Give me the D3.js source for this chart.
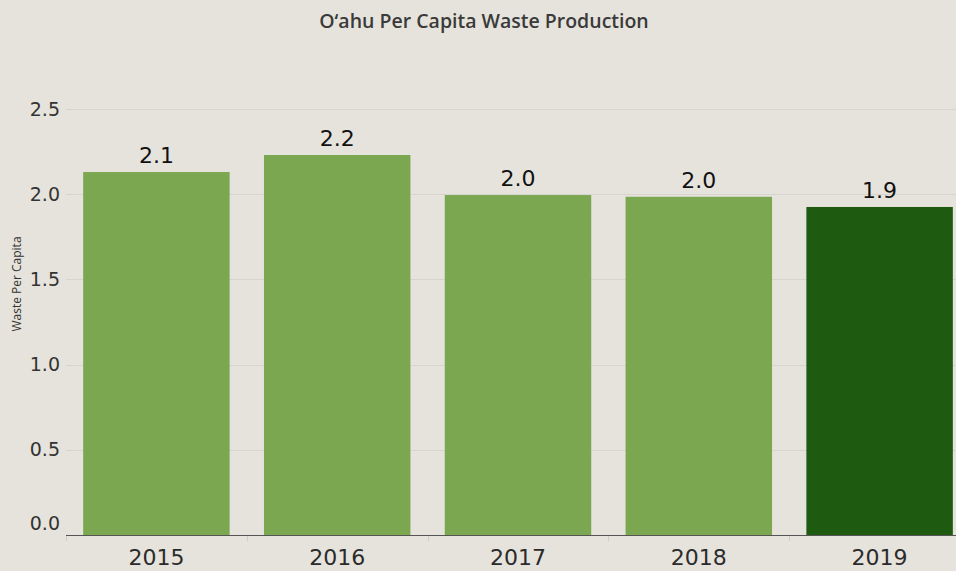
<!DOCTYPE html>
<html>
<head>
<meta charset="utf-8">
<script src="https://cdn.jsdelivr.net/npm/d3@7"></script>
<style>
  body { margin: 0; background: #e6e3dc; }
  svg { display: block; }
</style>
</head>
<body>
<div id="chart"></div>
<script>
var svgWidth = 956;
var svgHeight = 571;

// data
var years = ["2015", "2016", "2017", "2018", "2019"];
var wastePerCapita = [2.13, 2.23, 1.995, 1.985, 1.925];
var yTicks = [0, 0.5, 1.0, 1.5, 2.0, 2.5];

var svg = d3.select("#chart")
  .append("svg")
  .attr("width", svgWidth)
  .attr("height", svgHeight);

svg.append("rect")
  .attr("width", svgWidth)
  .attr("height", svgHeight)
  .attr("fill", "#e6e3dc");

// plot runs past the right edge, like the original
var xBand = d3.scaleBand()
  .domain(years)
  .range([66, 970])
  .paddingInner(0.19)
  .paddingOuter(0.095);

var yLinear = d3.scaleLinear()
  .domain([0, 2.5])
  .range([535, 109]);

// gridlines
svg.append("g")
  .selectAll("line")
  .data(yTicks.filter(d => d > 0))
  .enter()
  .append("line")
  .attr("x1", 66)
  .attr("x2", svgWidth)
  .attr("y1", d => Math.round(yLinear(d)) + 0.5)
  .attr("y2", d => Math.round(yLinear(d)) + 0.5)
  .attr("stroke", "#d7d4cd")
  .attr("stroke-width", 1);

// y axis tick labels
var leftAxis = d3.axisLeft(yLinear)
  .tickValues(yTicks)
  .tickFormat(d3.format(".1f"))
  .tickSize(0)
  .tickPadding(0);

var yAxis = svg.append("g")
  .attr("transform", "translate(60,0)")
  .call(leftAxis);
yAxis.select(".domain").remove();
yAxis.selectAll("text")
  .attr("font-family", "DejaVu Sans, Verdana, sans-serif")
  .attr("font-size", 19)
  .attr("fill", "#333")
  // the zero label sits above the baseline
  .attr("y", d => d === 0 ? -12 : 0);

// bars
svg.append("g")
  .selectAll("rect")
  .data(years)
  .enter()
  .append("rect")
  .attr("x", d => xBand(d))
  .attr("width", xBand.bandwidth())
  .attr("y", (d, i) => yLinear(wastePerCapita[i]))
  .attr("height", (d, i) => yLinear(0) - yLinear(wastePerCapita[i]))
  .attr("fill", (d, i) => i === years.length - 1 ? "#1e5a0f" : "#7aa750");

// value labels
svg.append("g")
  .selectAll("text")
  .data(years)
  .enter()
  .append("text")
  .attr("x", d => xBand(d) + xBand.bandwidth() / 2)
  .attr("y", (d, i) => yLinear(wastePerCapita[i]) - 9)
  .attr("text-anchor", "middle")
  .attr("font-family", "DejaVu Sans, Verdana, sans-serif")
  .attr("font-size", 22)
  .attr("fill", "#111")
  .text((d, i) => wastePerCapita[i].toFixed(1));

// x axis
var bottomAxis = d3.axisBottom(xBand)
  .tickSize(0)
  .tickPadding(0);

var xAxis = svg.append("g")
  .attr("transform", "translate(0,535)")
  .call(bottomAxis);
xAxis.select(".domain").remove();
xAxis.selectAll("text")
  .attr("dy", null)
  .attr("y", 30)
  .attr("font-family", "DejaVu Sans, Verdana, sans-serif")
  .attr("font-size", 22)
  .attr("fill", "#2b2b2b");

// baseline
svg.append("line")
  .attr("x1", 66)
  .attr("x2", svgWidth)
  .attr("y1", 535.5)
  .attr("y2", 535.5)
  .attr("stroke", "#555")
  .attr("stroke-width", 1);

// small dividers between the bands
var bounds = [66].concat(years.slice(1).map(d => xBand(d) - xBand.step() * xBand.paddingInner() / 2));
svg.append("g")
  .selectAll("line")
  .data(bounds)
  .enter()
  .append("line")
  .attr("x1", d => Math.round(d) + 0.5)
  .attr("x2", d => Math.round(d) + 0.5)
  .attr("y1", 536)
  .attr("y2", 541)
  .attr("stroke", "#cfccc5");

// y axis title
svg.append("text")
  .attr("transform", "translate(21,284) rotate(-90)")
  .attr("text-anchor", "middle")
  .attr("font-family", "Open Sans, sans-serif")
  .attr("font-size", 12)
  .attr("fill", "#333")
  .text("Waste Per Capita");

// chart title
svg.append("text")
  .attr("x", 484)
  .attr("y", 28)
  .attr("text-anchor", "middle")
  .attr("font-family", "Open Sans, sans-serif")
  .attr("font-size", 19.5)
  .attr("font-weight", 600)
  .attr("fill", "#3a3a3a")
  .text("O‘ahu Per Capita Waste Production");
</script>
</body>
</html>
